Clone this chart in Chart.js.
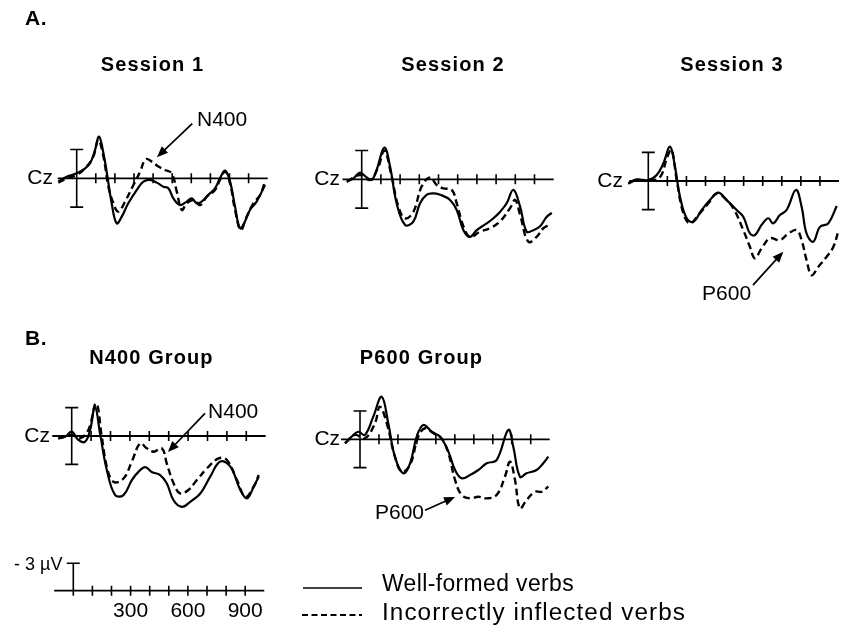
<!DOCTYPE html>
<html><head><meta charset="utf-8">
<script src="https://cdn.jsdelivr.net/npm/chart.js@4.4.1/dist/chart.umd.min.js"></script>
<style>html,body{margin:0;padding:0;background:#fff;}#wrap{position:relative;width:842px;height:625px;}canvas{display:block;}</style>
</head><body><div id="wrap"><canvas id="c" width="842" height="625"></canvas></div>
<script>
// ---- Data (time in ms, amplitude in µV; negative plotted up) ----
const s1WellT = [-96,-52,0,44,70,96,117,140,161,183,209,236,270,314,349,384,419,454,480,506,541,576,602,628,654,689,724,750,777,803,829,855,881,907,942,986];
const s1WellV = [0.35,-0.17,-0.52,-1.04,-1.56,-2.95,-4.34,-2.6,-0.17,2.6,4.69,3.99,2.6,1.22,0.35,0.17,0.45,0.87,1.04,2.08,2.78,2.43,2.08,2.6,2.43,1.74,1.04,0,-0.8,0.35,2.95,5.2,4.5,3.3,2.43,0.69];
const s1BadT = [-96,-52,0,52,87,113,140,166,192,218,253,297,332,361,393,428,462,497,524,550,576,611,646,681,724,750,777,803,829,859,890,925,960,986];
const s1BadV = [0.45,0,-0.35,-1.22,-2.26,-3.99,-2.26,0.87,2.6,3.47,2.43,0.69,-0.69,-1.98,-1.74,-1.22,-0.87,-0.52,1.39,3.3,2.6,2.26,2.78,1.91,1.22,0.17,-0.69,0.52,3.3,5.38,3.99,2.6,1.74,0.35];

const s2WellT = [-78,-43,-9,26,52,78,118,148,182,226,269,304,339,373,408,460,495,530,564,599,651,686,720,755,790,825,859,894,929,964,990];
const s2WellV = [0.25,-0.1,-0.7,-0.2,0.07,-1.0,-3.3,-1.3,2.5,4.75,4.4,2.5,1.6,1.46,1.6,2.15,3.2,5.3,6.0,5.3,4.6,4.06,3.4,2.5,1.1,2.85,5.45,5.3,4.9,3.9,3.5];
const s2BadT = [-78,-9,43,87,118,156,191,226,269,312,356,391,425,469,495,530,564,616,668,720,773,799,825,868,911,946,981];
const s2BadV = [0.25,-0.45,0.07,-1.3,-3.0,-0.3,2.85,4.06,3.4,0.76,-0.2,0.6,0.94,1.1,2.5,4.9,6.0,5.45,5.1,4.4,3.0,2.15,3.7,6.5,6.0,5.1,4.75];

const s3WellT = [-105,-61,0,44,79,114,140,166,201,236,280,323,367,411,463,498,533,559,594,629,655,690,725,774,804,830,865,900,944,988];
const s3WellV = [0.25,-0.17,-0.1,-0.63,-1.85,-3.6,-1.5,1.64,3.9,4.27,3.04,2.0,1.22,2.0,3.04,3.74,5.5,5.66,4.6,3.9,4.44,3.57,3.04,0.94,2.7,5.5,6.36,4.8,4.44,2.62];
const s3BadT = [-105,-61,0,61,100,122,149,184,218,262,315,358,393,446,498,533,559,594,638,690,734,778,804,830,856,891,935,970,996];
const s3BadV = [0.25,-0.1,0,-0.4,-2.55,-3.25,-0.1,3.4,4.44,3.57,2.34,1.3,1.64,2.87,5.14,6.9,8.1,7.06,6.0,6.2,5.5,5.14,6.2,8.3,9.86,9.0,7.94,6.9,5.3];

const n4WellT = [-69,-34,0,34,69,95,120,146,181,224,267,310,344,379,413,456,490,525,568,611,663,714,766,818,869,904,938,964];
const n4WellV = [0.25,0.07,-0.46,0.42,0.6,-0.64,-3.1,-0.28,3.6,6.25,6.25,4.66,3.8,3.3,3.8,4.13,5.0,6.8,7.5,6.96,6.08,4.3,2.7,3.25,5.7,6.6,5.37,4.3];
const n4BadT = [-69,0,43,86,126,155,181,215,267,310,353,387,422,465,490,525,559,602,645,697,757,800,852,895,938,964];
const n4BadV = [0.25,-0.1,0.25,-0.64,-3.46,0.07,3.25,4.84,4.5,2.7,0.78,1.3,1.66,1.3,2.9,5.0,6.08,5.7,4.66,3.43,2.37,2.54,4.66,6.43,5.37,4.13];

const p6WellT = [-79,-44,-9,26,70,114,149,184,228,264,299,334,378,422,466,501,536,580,624,668,720,782,808,843,878,931,966,993];
const p6WellV = [0.42,-0.28,-0.8,-0.46,-2.4,-4.5,-1.7,1.84,3.6,2.54,-0.28,-1.52,-0.8,-0.28,1.3,3.25,4.13,3.78,3.25,2.54,2.2,-1.0,0.78,3.96,3.6,3.25,2.54,1.84];
const p6BadT = [-79,-26,26,79,105,141,184,220,264,307,343,387,430,466,501,536,580,624,668,720,764,791,817,843,878,922,958,993];
const p6BadV = [0.42,-0.46,-0.1,-1.7,-3.46,-1.7,1.84,3.43,2.7,-0.28,-1.17,-0.64,-0.1,1.48,4.3,5.9,6.25,6.08,6.25,5.9,3.96,2.37,4.3,7.3,6.43,5.55,5.55,5.0];

const tickTimes = [0,100,200,300,400,500,600,700,800,900];
const scaleTickLabels = [300,600,900];
const calibration = 3;      // µV
const epoch = [-100, 1000]; // ms
const seriesNames = ['Well-formed verbs', 'Incorrectly inflected verbs'];
const panelTitles = ['Session 1','Session 2','Session 3','N400 Group','P600 Group'];

// ---- Layout (pixel geometry of each panel) ----
const W = 842, H = 625;
const FONT = '"Liberation Sans", Arial, Helvetica, sans-serif';
const panels = [
  {key:'s1', well:[s1WellT,s1WellV], bad:[s1BadT,s1BadV], x0:76.7, px100:19.1, y0:178.3, pxUv:9.6, czT:-124,
   title:[152.5,65], ann:{text:'N400', at:[630,-6.0], from:[605,-5.7], to:[420,-2.2]}},
  {key:'s2', well:[s2WellT,s2WellV], bad:[s2BadT,s2BadV], x0:361.7, px100:19.2, y0:179.3, pxUv:9.6, czT:-113,
   title:[453,65]},
  {key:'s3', well:[s3WellT,s3WellV], bad:[s3BadT,s3BadV], x0:648.3, px100:19.07, y0:181, pxUv:9.55, czT:-133,
   title:[732,65], ann:{text:'P600', at:[282,11.9], from:[549,10.9], to:[708,7.4]}},
  {key:'n4', well:[n4WellT,n4WellV], bad:[n4BadT,n4BadV], x0:71.7, px100:19.4, y0:436, pxUv:9.45, czT:-112,
   title:[151.5,358], ann:{text:'N400', at:[703,-2.5], from:[687,-2.4], to:[496,1.7]}},
  {key:'p6', well:[p6WellT,p6WellV], bad:[p6BadT,p6BadV], x0:360, px100:18.97, y0:439.3, pxUv:9.45, czT:-105,
   title:[421.5,358], ann:{text:'P600', at:[79,7.8], from:[343,7.5], to:[501,6.1]}},
];
const scalePanel = {key:'sc', x0:73.3, px100:19.1, y0:590.7, pxUv:9.13};

function pts(T, V){ return T.map((t,i)=>({x:t, y:V[i]})); }

const scales = {};
[...panels, scalePanel].forEach(p=>{
  scales['x_'+p.key] = {type:'linear', axis:'x', display:false,
    min: -p.x0*100/p.px100, max:(W-p.x0)*100/p.px100};
  scales['y_'+p.key] = {type:'linear', axis:'y', display:false, reverse:true,
    min: -p.y0/p.pxUv, max:(H-p.y0)/p.pxUv};
});

const datasets = [];
panels.forEach(p=>{
  datasets.push({label:seriesNames[0], data:pts(p.well[0],p.well[1]), xAxisID:'x_'+p.key, yAxisID:'y_'+p.key,
    borderColor:'#000', borderWidth:2.2, pointRadius:0, tension:0.4, fill:false});
  datasets.push({label:seriesNames[1], data:pts(p.bad[0],p.bad[1]), xAxisID:'x_'+p.key, yAxisID:'y_'+p.key,
    borderColor:'#000', borderWidth:2.4, borderDash:[7,4], pointRadius:0, tension:0.4, fill:false});
});

function txt(ctx, s, x, y, font, align, spacing, fitWidth){
  ctx.font = font; ctx.textAlign = align || 'left'; ctx.textBaseline = 'middle';
  const sp = spacing || 0;
  ctx.letterSpacing = sp+'px';
  if(fitWidth){
    const w = ctx.measureText(s).width;
    const sx = fitWidth / w;
    ctx.save();
    ctx.translate(x, y); ctx.scale(sx, 1);
    ctx.fillText(s, 0, 0);
    ctx.restore();
  } else {
    ctx.fillText(s, x, y);
  }
  ctx.letterSpacing = '0px';
}
function arrow(ctx, x1,y1,x2,y2){
  const a = Math.atan2(y2-y1, x2-x1), L = 11, w = 4.5;
  ctx.setLineDash([]); ctx.lineWidth = 1.7;
  ctx.beginPath(); ctx.moveTo(x1,y1); ctx.lineTo(x2 - L*0.7*Math.cos(a), y2 - L*0.7*Math.sin(a)); ctx.stroke();
  ctx.beginPath();
  ctx.moveTo(x2,y2);
  ctx.lineTo(x2 - L*Math.cos(a) + w*Math.sin(a), y2 - L*Math.sin(a) - w*Math.cos(a));
  ctx.lineTo(x2 - L*Math.cos(a) - w*Math.sin(a), y2 - L*Math.sin(a) + w*Math.cos(a));
  ctx.closePath(); ctx.fill();
}

const figurePlugin = {
  id:'figure',
  beforeDatasetsDraw(chart){
    const ctx = chart.ctx;
    ctx.save();
    ctx.strokeStyle = '#000'; ctx.fillStyle = '#000'; ctx.setLineDash([]);
    panels.forEach(p=>{
      const xs = chart.scales['x_'+p.key], ys = chart.scales['y_'+p.key];
      const X = t=>xs.getPixelForValue(t), Y = v=>ys.getPixelForValue(v);
      const y0 = Y(0);
      ctx.lineWidth = 1.8;
      ctx.beginPath(); ctx.moveTo(X(epoch[0]), y0); ctx.lineTo(X(epoch[1]), y0); ctx.stroke();
      ctx.lineWidth = 1.6;
      ctx.beginPath();
      tickTimes.forEach(t=>{ if(t>0){ ctx.moveTo(X(t), y0-5); ctx.lineTo(X(t), y0+5); } });
      ctx.stroke();
      // calibration bar
      const xb = X(0);
      ctx.beginPath();
      ctx.moveTo(xb, Y(-calibration)); ctx.lineTo(xb, Y(calibration));
      ctx.moveTo(xb-6.5, Y(-calibration)); ctx.lineTo(xb+6.5, Y(-calibration));
      ctx.moveTo(xb-6.5, Y(calibration)); ctx.lineTo(xb+6.5, Y(calibration));
      ctx.stroke();
      txt(ctx, 'Cz', X(p.czT), y0, '21px '+FONT, 'right');
    });
    // scale legend
    const xs = chart.scales['x_sc'], ys = chart.scales['y_sc'];
    const X = t=>xs.getPixelForValue(t), Y = v=>ys.getPixelForValue(v);
    const y0 = Y(0);
    ctx.lineWidth = 1.8;
    ctx.beginPath(); ctx.moveTo(X(epoch[0]), y0); ctx.lineTo(X(epoch[1]), y0); ctx.stroke();
    ctx.lineWidth = 1.6;
    ctx.beginPath();
    tickTimes.forEach(t=>{ if(t>0){ ctx.moveTo(X(t), y0-5); ctx.lineTo(X(t), y0+5); } });
    ctx.moveTo(X(0), y0+5); ctx.lineTo(X(0), Y(-calibration));
    ctx.moveTo(X(0)-6.5, Y(-calibration)); ctx.lineTo(X(0)+6.5, Y(-calibration));
    ctx.stroke();
    scaleTickLabels.forEach(t=> txt(ctx, String(t), X(t), y0+21, '21px '+FONT, 'center'));
    txt(ctx, '- '+calibration+' \u00b5V', X(-57), Y(-2.8), '18px '+FONT, 'right');
    ctx.restore();
  },
  afterDatasetsDraw(chart){
    const ctx = chart.ctx;
    ctx.save();
    ctx.strokeStyle = '#000'; ctx.fillStyle = '#000';
    panels.forEach((p,i)=>{
      txt(ctx, panelTitles[i], p.title[0], p.title[1], 'bold 20px '+FONT, 'center', 1.1);
      if(p.ann){
        const xs = chart.scales['x_'+p.key], ys = chart.scales['y_'+p.key];
        const X = t=>xs.getPixelForValue(t), Y = v=>ys.getPixelForValue(v);
        txt(ctx, p.ann.text, X(p.ann.at[0]), Y(p.ann.at[1]), '21px '+FONT, 'left');
        arrow(ctx, X(p.ann.from[0]), Y(p.ann.from[1]), X(p.ann.to[0]), Y(p.ann.to[1]));
      }
    });
    txt(ctx, 'A.', 25, 19, 'bold 21px '+FONT, 'left', 0.5);
    txt(ctx, 'B.', 25, 339, 'bold 21px '+FONT, 'left', 0.5);
    // series legend
    ctx.lineWidth = 1.6; ctx.setLineDash([]);
    ctx.beginPath(); ctx.moveTo(303, 588); ctx.lineTo(362, 588); ctx.stroke();
    ctx.lineWidth = 2.2; ctx.setLineDash([6,3.5]);
    ctx.beginPath(); ctx.moveTo(302, 615); ctx.lineTo(362, 615); ctx.stroke();
    ctx.setLineDash([]);
    txt(ctx, seriesNames[0], 382, 585, '23px '+FONT, 'left', 0.4, 192);
    txt(ctx, seriesNames[1], 382, 614, '23px '+FONT, 'left', 1.0, 304);
    ctx.restore();
  }
};

new Chart(document.getElementById('c'), {
  type:'line',
  data:{datasets},
  options:{
    responsive:false, animation:false, devicePixelRatio:1,
    layout:{padding:0},
    plugins:{legend:{display:false}, title:{display:false}, tooltip:{enabled:false}},
    events:[],
    scales
  },
  plugins:[figurePlugin]
});
</script>
</body></html>
